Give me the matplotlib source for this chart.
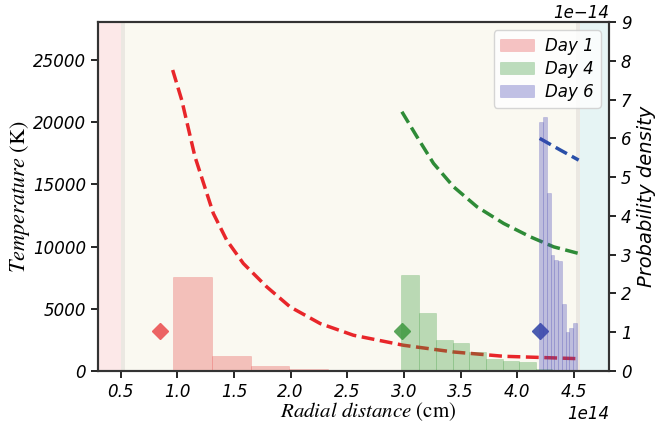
import matplotlib
matplotlib.use("Agg")
import matplotlib.pyplot as plt
import numpy as np

plt.rcParams['mathtext.fontset'] = 'stix'

# radial distance in units of 1e14 cm, density in units of 1e-14
R_UNIT = 1e14
P_UNIT = 1e-14

# histograms of the emitting radius per epoch
day1_edges = [0.959, 1.302, 1.648, 1.989, 2.331, 2.673]
day1_dens = [2.43, 0.38, 0.12, 0.04, 0.02]

day4_edges = [2.976, 3.132, 3.283, 3.429, 3.577, 3.724, 3.871, 4.019, 4.166, 4.31, 4.46]
day4_dens = [2.47, 1.50, 0.79, 0.72, 0.49, 0.30, 0.26, 0.22, 0.06, 0.03]

day6_edges = [4.195, 4.228, 4.261, 4.294, 4.327, 4.36, 4.393, 4.426, 4.459, 4.492, 4.525]
day6_dens = [6.43, 6.56, 4.58, 2.99, 2.86, 2.84, 1.74, 1.01, 1.12, 1.24]

# temperature profiles
day1_r = [0.959, 1.039, 1.156, 1.318, 1.436, 1.583, 1.790, 1.996, 2.261, 2.555,
          2.997, 3.438, 3.880, 4.513]
day1_T = [24195, 21781, 17219, 12665, 10516, 8642, 6759, 5150, 3814, 2873,
          2068, 1529, 1183, 998]

day4_r = [2.982, 3.115, 3.261, 3.438, 3.645, 3.880, 4.116, 4.322, 4.542]
day4_T = [20840, 18831, 16689, 14808, 13198, 11861, 10783, 9978, 9447]

day6_r = [4.198, 4.381, 4.542]
day6_T = [18700, 17758, 16954]

# photospheric markers
marker_r = [0.845, 2.980, 4.200]
marker_T = [3200, 3200, 3200]

labels = ["Day 1", "Day 4", "Day 6"]
bar_colors = ["#e74c4c", "#3a9a3a", "#4545b5"]
line_colors = ["#e8262a", "#2e8b37", "#2a4fa8"]
marker_colors = ["#ec6464", "#5aa55a", "#4a5cb0"]

fig = plt.figure(figsize=(6.55, 4.24), dpi=100)
ax = fig.add_subplot(111)
fig.subplots_adjust(left=0.1496, right=0.9298, bottom=0.125, top=0.948)
ax.set_facecolor("#faf9f1")

xmin, xmax = 0.30, 4.81
ax.axvspan(xmin * R_UNIT, 0.5 * R_UNIT, color="#fce8e8", lw=0)
ax.axvspan(0.5 * R_UNIT, 0.535 * R_UNIT, color="#ebe8e2", lw=0)
ax.axvspan(4.52 * R_UNIT, 4.55 * R_UNIT, color="#ebe8e2", lw=0)
ax.axvspan(4.55 * R_UNIT, xmax * R_UNIT, color="#e6f4f4", lw=0)

for r, T, c in zip([day1_r, day4_r, day6_r], [day1_T, day4_T, day6_T], line_colors):
    ax.plot(np.array(r) * R_UNIT, T, ls="--", lw=2.5, color=c)

for r, T, c in zip(marker_r, marker_T, marker_colors):
    ax.plot(r * R_UNIT, T, marker="D", ms=8, color=c, ls="none")

ax.set_xlim(xmin * R_UNIT, xmax * R_UNIT)
ax.set_ylim(0, 28050)
ax.set_xticks(np.arange(0.5, 4.6, 0.5) * R_UNIT)
ax.set_yticks(np.arange(0, 25001, 5000))

ax2 = ax.twinx()
for edges, dens, c, lab in zip([day1_edges, day4_edges, day6_edges],
                               [day1_dens, day4_dens, day6_dens], bar_colors, labels):
    edges = np.array(edges) * R_UNIT
    ax2.bar(edges[:-1], np.array(dens) * P_UNIT, width=np.diff(edges), align="edge",
            color=c, alpha=0.33, edgecolor=c, linewidth=0.4, label=lab)
ax2.set_ylim(0, 9 * P_UNIT)
ax2.set_yticks(np.arange(0, 10) * P_UNIT)

for a in (ax, ax2):
    for sp in a.spines.values():
        sp.set_linewidth(1.5)
        sp.set_color("#333333")
    a.tick_params(length=5, width=1.2, labelsize=12)
    for lbl in a.get_xticklabels() + a.get_yticklabels():
        lbl.set_fontstyle("italic")
    a.xaxis.get_offset_text().set_fontstyle("italic")
    a.xaxis.get_offset_text().set_fontsize(12)
    a.yaxis.get_offset_text().set_fontstyle("italic")
    a.yaxis.get_offset_text().set_fontsize(12)

ax.set_xlabel(r"$Radial\ distance$ (cm)", family="STIXGeneral", fontsize=15, labelpad=0)
ax.xaxis.label.set_x(0.528)
ax.set_ylabel(r"$Temperature$ (K)", family="STIXGeneral", fontsize=16, labelpad=1)
ax2.set_ylabel("Probability density", fontsize=14, fontstyle="italic", labelpad=4)

leg = ax2.legend(loc="upper right", prop={"style": "italic", "size": 12},
                 labelspacing=0.3, borderpad=0.4, handletextpad=0.7)

plt.savefig("out.png", dpi=100)
